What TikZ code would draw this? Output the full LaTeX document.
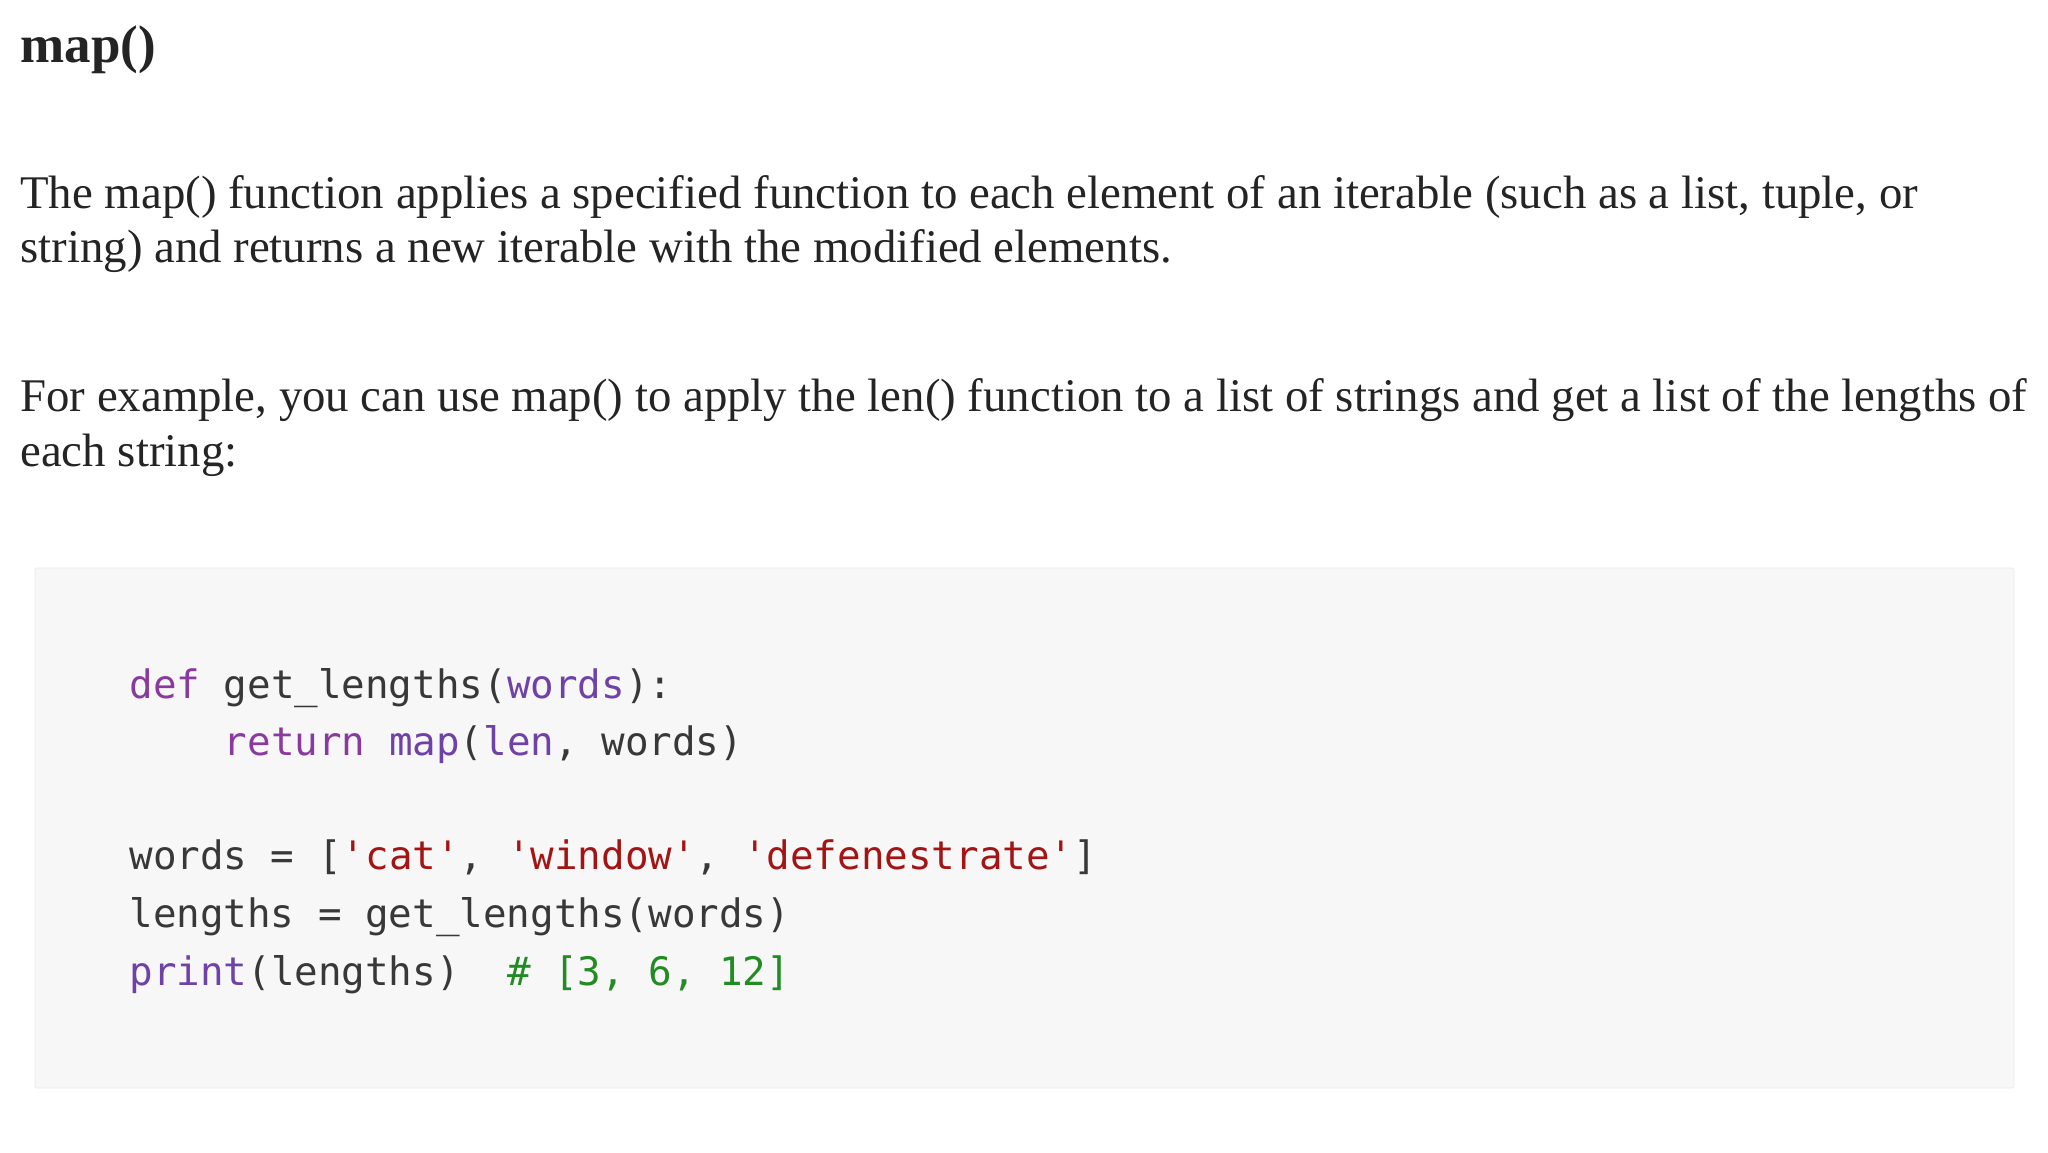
\documentclass[tikz,border=0pt]{standalone}
\usepackage{fontspec}
\setmainfont{Liberation Serif}
\setmonofont{DejaVu Sans Mono}
\definecolor{bodytext}{HTML}{242424}
\definecolor{codebg}{HTML}{F7F7F7}
\definecolor{codeline}{HTML}{EBEBEB}
\definecolor{kw}{HTML}{8A3A9E}
\definecolor{fn}{HTML}{6F42A8}
\definecolor{str}{HTML}{A31515}
\definecolor{cmt}{HTML}{228B22}
\definecolor{plain}{HTML}{383838}
\newcommand{\kwd}[1]{\textcolor{kw}{#1}}
\newcommand{\fnn}[1]{\textcolor{fn}{#1}}
\newcommand{\strg}[1]{\textcolor{str}{#1}}
\newcommand{\cmnt}[1]{\textcolor{cmt}{#1}}
\begin{document}
\begin{tikzpicture}[x=1pt, y=-1pt,
  prose/.style={anchor=base west, inner sep=0, text=bodytext, font=\fontsize{23.4}{28}\selectfont},
  codeln/.style={anchor=base west, inner sep=0, text=plain, font=\ttfamily\fontsize{19.6}{29}\selectfont}]
\useasboundingbox[fill=white] (0,0) rectangle (1024,576);
% heading and text
\node[prose, font=\bfseries\fontsize{26.5}{30}\selectfont] (head) at (10,31) {map()};
\node[prose] (p1a) at (10,104) {The map() function applies a specified function to each element of an iterable (such as a list, tuple, or};
\node[prose] (p1b) at (10,131) {string) and returns a new iterable with the modified elements.};
\node[prose] (p2a) at (10,205.5) {For example, you can use map() to apply the len() function to a list of strings and get a list of the lengths of};
\node[prose] (p2b) at (10,233) {each string:};
% code block
\draw[codeline, fill=codebg, rounded corners=1pt] (17.5,284) rectangle (1007,544);
\node[codeln] (c1) at (64.5,349) {\kwd{def} get\_lengths(\fnn{words}):};
\node[codeln] (c2) at (64.5,377.5) {\phantom{xxxx}\kwd{return} \fnn{map}(\fnn{len}, words)};
\node[codeln] (c3) at (64.5,434.5) {words = [\strg{'cat'}, \strg{'window'}, \strg{'defenestrate'}]};
\node[codeln] (c4) at (64.5,463.5) {lengths = get\_lengths(words)};
\node[codeln] (c5) at (64.5,492.5) {\fnn{print}(lengths)\ \ \cmnt{\# [3, 6, 12]}};
\end{tikzpicture}
\end{document}
